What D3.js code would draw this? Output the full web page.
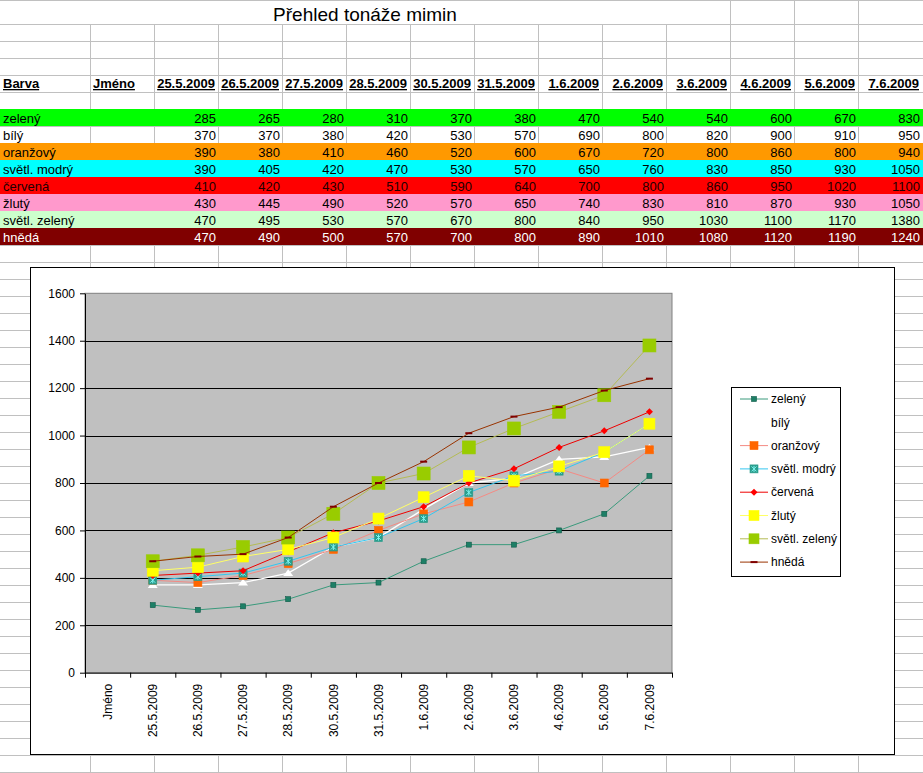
<!DOCTYPE html>
<html lang="cs">
<head>
<meta charset="UTF-8">
<title>Přehled tonáže mimin</title>
<script src="https://d3js.org/d3.v7.min.js"></script>
<style>
    body { margin: 0; background: #fff; }
    svg { display: block; font-family: "Liberation Sans", Arial, sans-serif; }
    .grid line { stroke: #c0c0c0; stroke-width: 1; shape-rendering: crispEdges; }
</style>
</head>
<body>
<svg id="sheet" width="923" height="773"></svg>
<script>
    // --- data read from the sheet ---
    const title = "Přehled tonáže mimin";
    const headBarva = "Barva";
    const headJmeno = "Jméno";
    const dates = ["25.5.2009", "26.5.2009", "27.5.2009", "28.5.2009", "30.5.2009", "31.5.2009",
                   "1.6.2009", "2.6.2009", "3.6.2009", "4.6.2009", "5.6.2009", "7.6.2009"];
    const names = ["zelený", "bílý", "oranžový", "světl. modrý", "červená", "žlutý", "světl. zelený", "hnědá"];

    const zeleny      = [285, 265, 280, 310, 370, 380, 470, 540, 540, 600, 670, 830];
    const bily        = [370, 370, 380, 420, 530, 570, 690, 800, 820, 900, 910, 950];
    const oranzovy    = [390, 380, 410, 460, 520, 600, 670, 720, 800, 860, 800, 940];
    const svetlModry  = [390, 405, 420, 470, 530, 570, 650, 760, 830, 850, 930, 1050];
    const cervena     = [410, 420, 430, 510, 590, 640, 700, 800, 860, 950, 1020, 1100];
    const zluty       = [430, 445, 490, 520, 570, 650, 740, 830, 810, 870, 930, 1050];
    const svetlZeleny = [470, 495, 530, 570, 670, 800, 840, 950, 1030, 1100, 1170, 1380];
    const hneda       = [470, 490, 500, 570, 700, 800, 890, 1010, 1080, 1120, 1190, 1240];

    const yTicks = [0, 200, 400, 600, 800, 1000, 1200, 1400, 1600];

    const values = [zeleny, bily, oranzovy, svetlModry, cervena, zluty, svetlZeleny, hneda];

    // row fills / text colour of the table, one per name
    const rowFill = ["#00ff00", null, "#ff9900", "#00ffff", "#ff0000", "#ff99cc", "#ccffcc", "#800000"];
    const rowText = ["#000", "#000", "#000", "#000", "#200000", "#000", "#000", "#fff"];

    // chart look of each series
    const styles = [
        { line: "#3a9a7c", lw: 1,   shape: "square",   size: 5,  fill: "#1d7f66", stroke: "#0e5a48" },
        { line: "#ffffff", lw: 1.3, shape: "triangle", size: 10, fill: "#ffffff", stroke: "#ffffff" },
        { line: "#f48a84", lw: 1,   shape: "square",   size: 8,  fill: "#ff6600", stroke: "#ff6600" },
        { line: "#33c6f0", lw: 1,   shape: "star",     size: 8,  fill: "#2a9d8c", stroke: "#2a9d8c" },
        { line: "#ee0000", lw: 1,   shape: "diamond",  size: 7,  fill: "#ff0000", stroke: "#ff0000" },
        { line: "#ffff66", lw: 1,   shape: "square",   size: 11, fill: "#ffff00", stroke: "#ffff00" },
        { line: "#b4bb55", lw: 1,   shape: "square",   size: 13, fill: "#99cc00", stroke: "#99cc00" },
        { line: "#993300", lw: 1,   shape: "dash",     size: 7,  fill: "#800000", stroke: "#800000" }
    ];

    const svg = d3.select("#sheet");
    const W = 923, H = 773;

    // --- spreadsheet grid ---
    const colLines = d3.range(13).map(k => 90 + 64 * k);
    const colEdges = [0].concat(colLines).concat([922]);
    const rowLines = d3.range(0, 46).map(k => 24 + 17 * k).filter(v => v < H);

    const grid = svg.append("g").attr("class", "grid");
    grid.append("line").attr("x1", 0).attr("x2", W).attr("y1", 0.5).attr("y2", 0.5);
    grid.selectAll(".h").data(rowLines).join("line")
        .attr("x1", 0).attr("x2", W)
        .attr("y1", d => d + 0.5).attr("y2", d => d + 0.5);
    grid.selectAll(".v").data(colLines).join("line")
        .attr("x1", d => d + 0.5).attr("x2", d => d + 0.5)
        .attr("y1", d => d >= 730 ? 0 : 24).attr("y2", H);

    // title merged over A..K
    svg.append("text")
        .attr("x", 365).attr("y", 20.5)
        .attr("text-anchor", "middle")
        .attr("font-size", 19)
        .text(title);

    // header row
    const headY = 75;
    const head = svg.append("g").attr("font-size", 13).attr("font-weight", "bold")
        .attr("text-decoration", "underline");
    head.append("text").attr("x", 3).attr("y", headY + 13).text(headBarva);
    head.append("text").attr("x", 93).attr("y", headY + 13).text(headJmeno);
    head.selectAll(".d").data(dates).join("text")
        .attr("x", (d, i) => colEdges[i + 3] - 3)
        .attr("y", headY + 13)
        .attr("text-anchor", "end")
        .text(d => d);

    // data rows
    const rowTop = i => 109 + 17 * i;
    names.forEach((name, i) => {
        const g = svg.append("g").attr("font-size", 13).attr("fill", rowText[i]);
        if (rowFill[i]) {
            g.append("rect").attr("x", 0).attr("y", rowTop(i)).attr("width", W).attr("height", 17)
                .attr("fill", rowFill[i]);
        }
        g.append("text").attr("x", 3).attr("y", rowTop(i) + 13.5).text(name);
        g.selectAll(".n").data(values[i]).join("text")
            .attr("x", (d, j) => colEdges[j + 3] - 2)
            .attr("y", rowTop(i) + 13.5)
            .attr("text-anchor", "end")
            .text(d => d);
    });

    // --- chart ---
    const chart = svg.append("g");
    chart.append("rect")
        .attr("x", 30.5).attr("y", 267.5).attr("width", 864).attr("height", 487)
        .attr("fill", "#fff").attr("stroke", "#000");

    const plot = { left: 85, right: 672, top: 293.3, bottom: 672.7 };
    const cats = [headJmeno].concat(dates);

    const x = d3.scaleBand().domain(cats).range([plot.left, plot.right]);
    const y = d3.scaleLinear().domain([0, 1600]).range([plot.bottom, plot.top]);
    const cx = i => x(dates[i]) + x.bandwidth() / 2;

    chart.append("rect")
        .attr("x", plot.left).attr("y", plot.top)
        .attr("width", plot.right - plot.left).attr("height", plot.bottom - plot.top)
        .attr("fill", "#c0c0c0").attr("stroke", "#808080");

    chart.selectAll(".gl").data(yTicks.filter(t => t > 0 && t < 1600)).join("line")
        .attr("x1", plot.left).attr("x2", plot.right)
        .attr("y1", d => Math.round(y(d)) + 0.5).attr("y2", d => Math.round(y(d)) + 0.5)
        .attr("stroke", "#000").attr("shape-rendering", "crispEdges");

    // y axis
    const yAxis = chart.append("g")
        .attr("transform", `translate(${plot.left},0)`)
        .call(d3.axisLeft(y).tickValues(yTicks).tickFormat(d3.format("d"))
            .tickSize(5).tickPadding(5).tickSizeOuter(0));
    yAxis.selectAll("text").attr("font-size", 12).attr("font-family", null).attr("fill", "#000");
    yAxis.selectAll("line, path").attr("stroke", "#000");

    // x axis: ticks between categories, labels at centres
    const xEdge = d3.scaleLinear().domain([0, cats.length]).range([plot.left, plot.right]);
    const xTicksAxis = chart.append("g")
        .attr("transform", `translate(0,${plot.bottom})`)
        .call(d3.axisBottom(xEdge).tickValues(d3.range(cats.length + 1)).tickFormat("").tickSize(5).tickSizeOuter(0));
    xTicksAxis.selectAll("line, path").attr("stroke", "#000");

    const xAxis = chart.append("g")
        .attr("transform", `translate(0,${plot.bottom})`)
        .call(d3.axisBottom(x).tickSize(0).tickPadding(0));
    xAxis.select(".domain").remove();
    xAxis.selectAll("text")
        .attr("font-size", 12).attr("font-family", null).attr("fill", "#000")
        .attr("transform", "translate(0,11) rotate(-90)")
        .attr("text-anchor", "end")
        .attr("x", 0).attr("y", 0).attr("dy", "0.35em");

    function marker(sel, st, px, py) {
        const s = st.size, h = s / 2;
        if (st.shape === "square" || st.shape === "star") {
            sel.append("rect").attr("x", px - h).attr("y", py - h).attr("width", s).attr("height", s)
                .attr("fill", st.fill).attr("stroke", st.stroke).attr("stroke-width", 0.6);
            if (st.shape === "star") {
                sel.append("path")
                    .attr("d", `M${px - h + 1.5},${py - h + 1.5}L${px + h - 1.5},${py + h - 1.5}M${px + h - 1.5},${py - h + 1.5}L${px - h + 1.5},${py + h - 1.5}M${px},${py - h + 1}L${px},${py + h - 1}`)
                    .attr("stroke", "#7ff5f0").attr("stroke-width", 1);
            }
        } else if (st.shape === "triangle") {
            sel.append("path")
                .attr("d", `M${px},${py - h * 0.75}L${px + h},${py + h * 0.6}L${px - h},${py + h * 0.6}Z`)
                .attr("fill", st.fill);
        } else if (st.shape === "diamond") {
            sel.append("path")
                .attr("d", `M${px},${py - h}L${px + h},${py}L${px},${py + h}L${px - h},${py}Z`)
                .attr("fill", st.fill);
        } else if (st.shape === "dash") {
            sel.append("rect").attr("x", px - h).attr("y", py - 1).attr("width", s).attr("height", 2)
                .attr("fill", st.fill);
        }
    }

    const line = d3.line().x((d, i) => cx(i)).y(d => y(d));
    values.forEach((vals, k) => {
        const st = styles[k];
        const g = chart.append("g");
        g.append("path").attr("d", line(vals)).attr("fill", "none")
            .attr("stroke", st.line).attr("stroke-width", st.lw);
        vals.forEach((v, i) => marker(g, st, cx(i), y(v)));
    });

    // legend
    const legend = chart.append("g");
    legend.append("rect").attr("x", 731.5).attr("y", 387.5).attr("width", 109).attr("height", 189)
        .attr("fill", "#fff").attr("stroke", "#000");
    names.forEach((name, k) => {
        const st = styles[k];
        const ly = 399 + 23.3 * k;
        const g = legend.append("g");
        g.append("line").attr("x1", 740).attr("x2", 768).attr("y1", ly).attr("y2", ly)
            .attr("stroke", st.line).attr("stroke-width", st.lw);
        marker(g, Object.assign({}, st, { size: Math.min(st.size, 10) }), 754, ly);
        g.append("text").attr("x", 771).attr("y", ly).attr("dy", "0.35em")
            .attr("font-size", 12).text(name);
    });
</script>
</body>
</html>
